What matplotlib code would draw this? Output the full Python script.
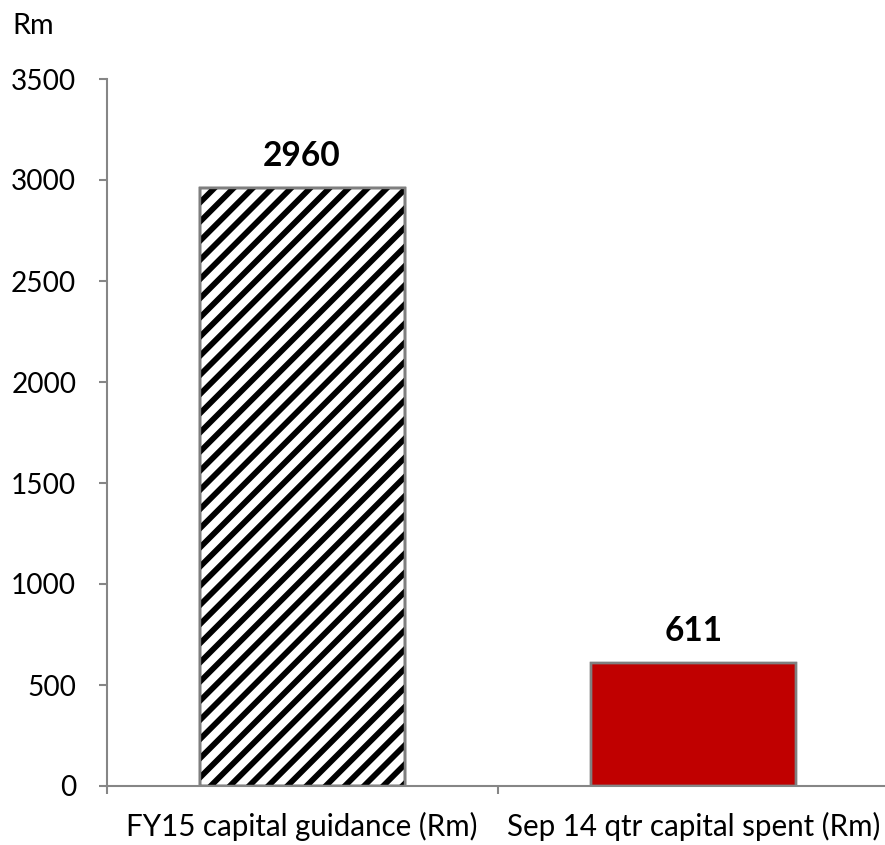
import matplotlib
matplotlib.use("Agg")
import matplotlib.pyplot as plt
from matplotlib.ticker import FixedLocator

categories = ["FY15 capital guidance (Rm)", "Sep 14 qtr capital spent (Rm)"]
values = [2960, 611]
y_ticks = [0, 500, 1000, 1500, 2000, 2500, 3000, 3500]

DPI = 115
plt.rcParams["font.family"] = ["Lato", "DejaVu Sans"]
plt.rcParams["hatch.linewidth"] = 3.6

fig = plt.figure(figsize=(885 / DPI, 845 / DPI), dpi=DPI)
ax = fig.add_axes([106.5 / 885, 59 / 845, (889 - 106.5) / 885, (786 - 79) / 845])

axis_grey = "#868686"
bar_edge = "#7f7f7f"
x = list(range(len(categories)))
width = 0.524

# Fill layer: black diagonal hatching on the first bar, solid red on the second
fills = ax.bar(x, values, width=width, linewidth=1.5)
fills[0].set_facecolor("white")
fills[0].set_edgecolor("black")
fills[0].set_hatch("//")
fills[1].set_facecolor("#c00000")
fills[1].set_edgecolor(bar_edge)
# Grey outline drawn over the fills
ax.bar(x, values, width=width, facecolor="none", edgecolor=bar_edge, linewidth=1.5)

for xi, v in zip(x, values):
    ax.annotate(str(v), (xi, v), xytext=(0, 20), textcoords="offset points",
                ha="center", va="center", fontsize=21, fontweight="bold")

ax.set_xlim(-0.5, 1.5)
ax.set_ylim(0, 3500)
ax.set_yticks(y_ticks)
ax.set_yticklabels([str(t) for t in y_ticks])
ax.set_xticks(x)
ax.set_xticklabels(categories)
ax.xaxis.set_minor_locator(FixedLocator([-0.5, 0.5, 1.5]))

for s in ["top", "right"]:
    ax.spines[s].set_visible(False)
for s in ["left", "bottom"]:
    ax.spines[s].set_color(axis_grey)
    ax.spines[s].set_linewidth(1.3)

ax.tick_params(axis="y", direction="out", length=5, width=1.3, color=axis_grey,
               labelsize=17.5, pad=14)
ax.tick_params(axis="x", which="major", length=0, labelsize=18.5, pad=16)
ax.tick_params(axis="x", which="minor", direction="out", length=5, width=1.3,
               color=axis_grey)

fig.text(12 / 885, 1 - 26 / 845, "Rm", fontsize=18, ha="left", va="center")

fig.savefig("out.png", dpi=DPI)
